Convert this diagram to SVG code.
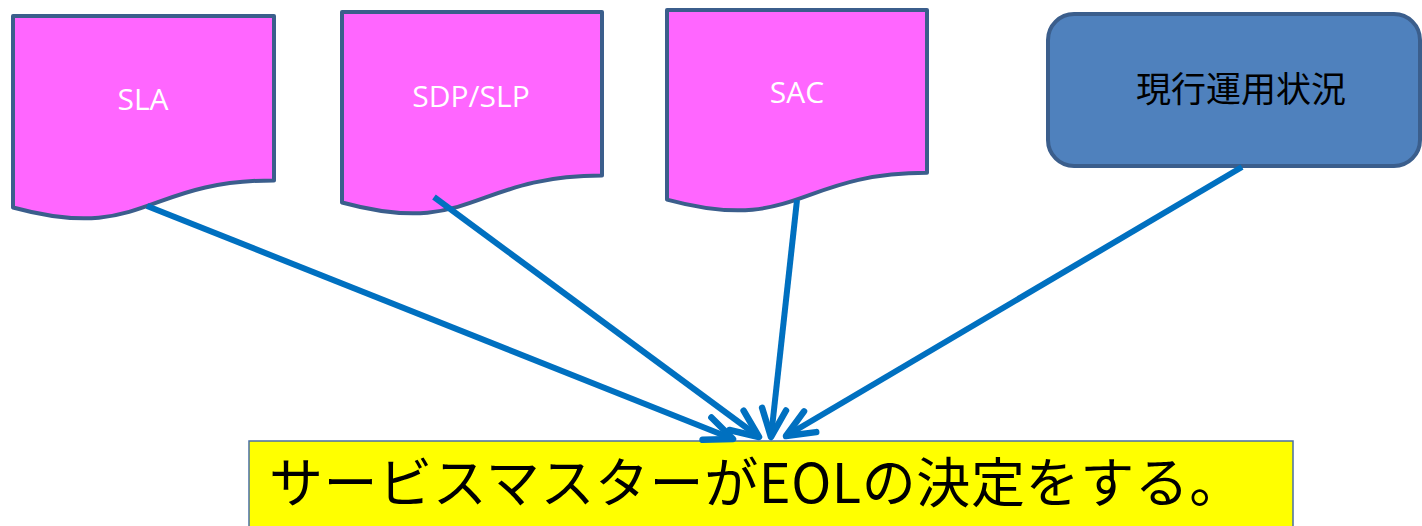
<svg xmlns="http://www.w3.org/2000/svg" width="1422" height="526" viewBox="0 0 1422 526">
<style>
.doc{fill:#FF66FF;stroke:#3B5E8C;stroke-width:4;stroke-linejoin:round}
.doclbl{font-family:"Open Sans","Noto Sans",sans-serif;font-size:30px;fill:#FFFFFF;text-anchor:middle}
.conn{fill:none;stroke:#0070C0;stroke-width:6;marker-end:url(#arr)}
</style>
<defs>
<marker id="arr" markerUnits="userSpaceOnUse" viewBox="-36 -18 42 36" refX="0" refY="0" markerWidth="42" markerHeight="36" orient="auto">
<path d="M-28,-12 L0,0 L-28,12" fill="none" stroke="#0070C0" stroke-width="6.5" stroke-linecap="round" stroke-linejoin="round"/>
</marker>
</defs>
<rect width="1422" height="526" fill="#FFFFFF"/>
<g id="node-sla">
<path class="doc" d="M13,16 H274 V180.4 C143.5,180.4 143.5,243 13,207.5 Z"/>
<text class="doclbl" x="143" y="110">SLA</text>
</g>
<g id="node-sdp">
<path class="doc" d="M342,12 H602 V175.6 C472,175.6 472,237.9 342,202.5 Z"/>
<text class="doclbl" x="471" y="107">SDP/SLP</text>
</g>
<g id="node-sac">
<path class="doc" d="M667,10 H927 V172.8 C797,172.8 797,234.8 667,199.6 Z"/>
<text class="doclbl" x="797" y="103">SAC</text>
</g>
<g id="node-status">
<rect x="1048" y="14" width="372" height="152" rx="26" ry="26" fill="#4F81BD" stroke="#3B5E8C" stroke-width="4"/>
<text x="1241" y="102" font-family="'Noto Sans CJK JP','Noto Sans CJK SC',sans-serif" font-size="35" fill="#000000" text-anchor="middle">現行運用状況</text>
</g>
<g id="node-decision">
<rect x="249" y="441" width="1044" height="100" fill="#FFFF00" stroke="#4A6FA5" stroke-width="1.5"/>
<text x="269" y="503" font-family="'Noto Sans CJK JP','Noto Sans CJK SC',sans-serif" font-size="54" letter-spacing="0.6" fill="#000000">サービスマスターがEOLの決定をする。</text>
</g>
<g id="connectors">
<line class="conn" x1="147" y1="206" x2="733" y2="439"/>
<line class="conn" x1="434" y1="197" x2="759" y2="437"/>
<line class="conn" x1="797" y1="200" x2="771" y2="437"/>
<line class="conn" x1="1242" y1="167" x2="786" y2="436"/>
</g>
</svg>
